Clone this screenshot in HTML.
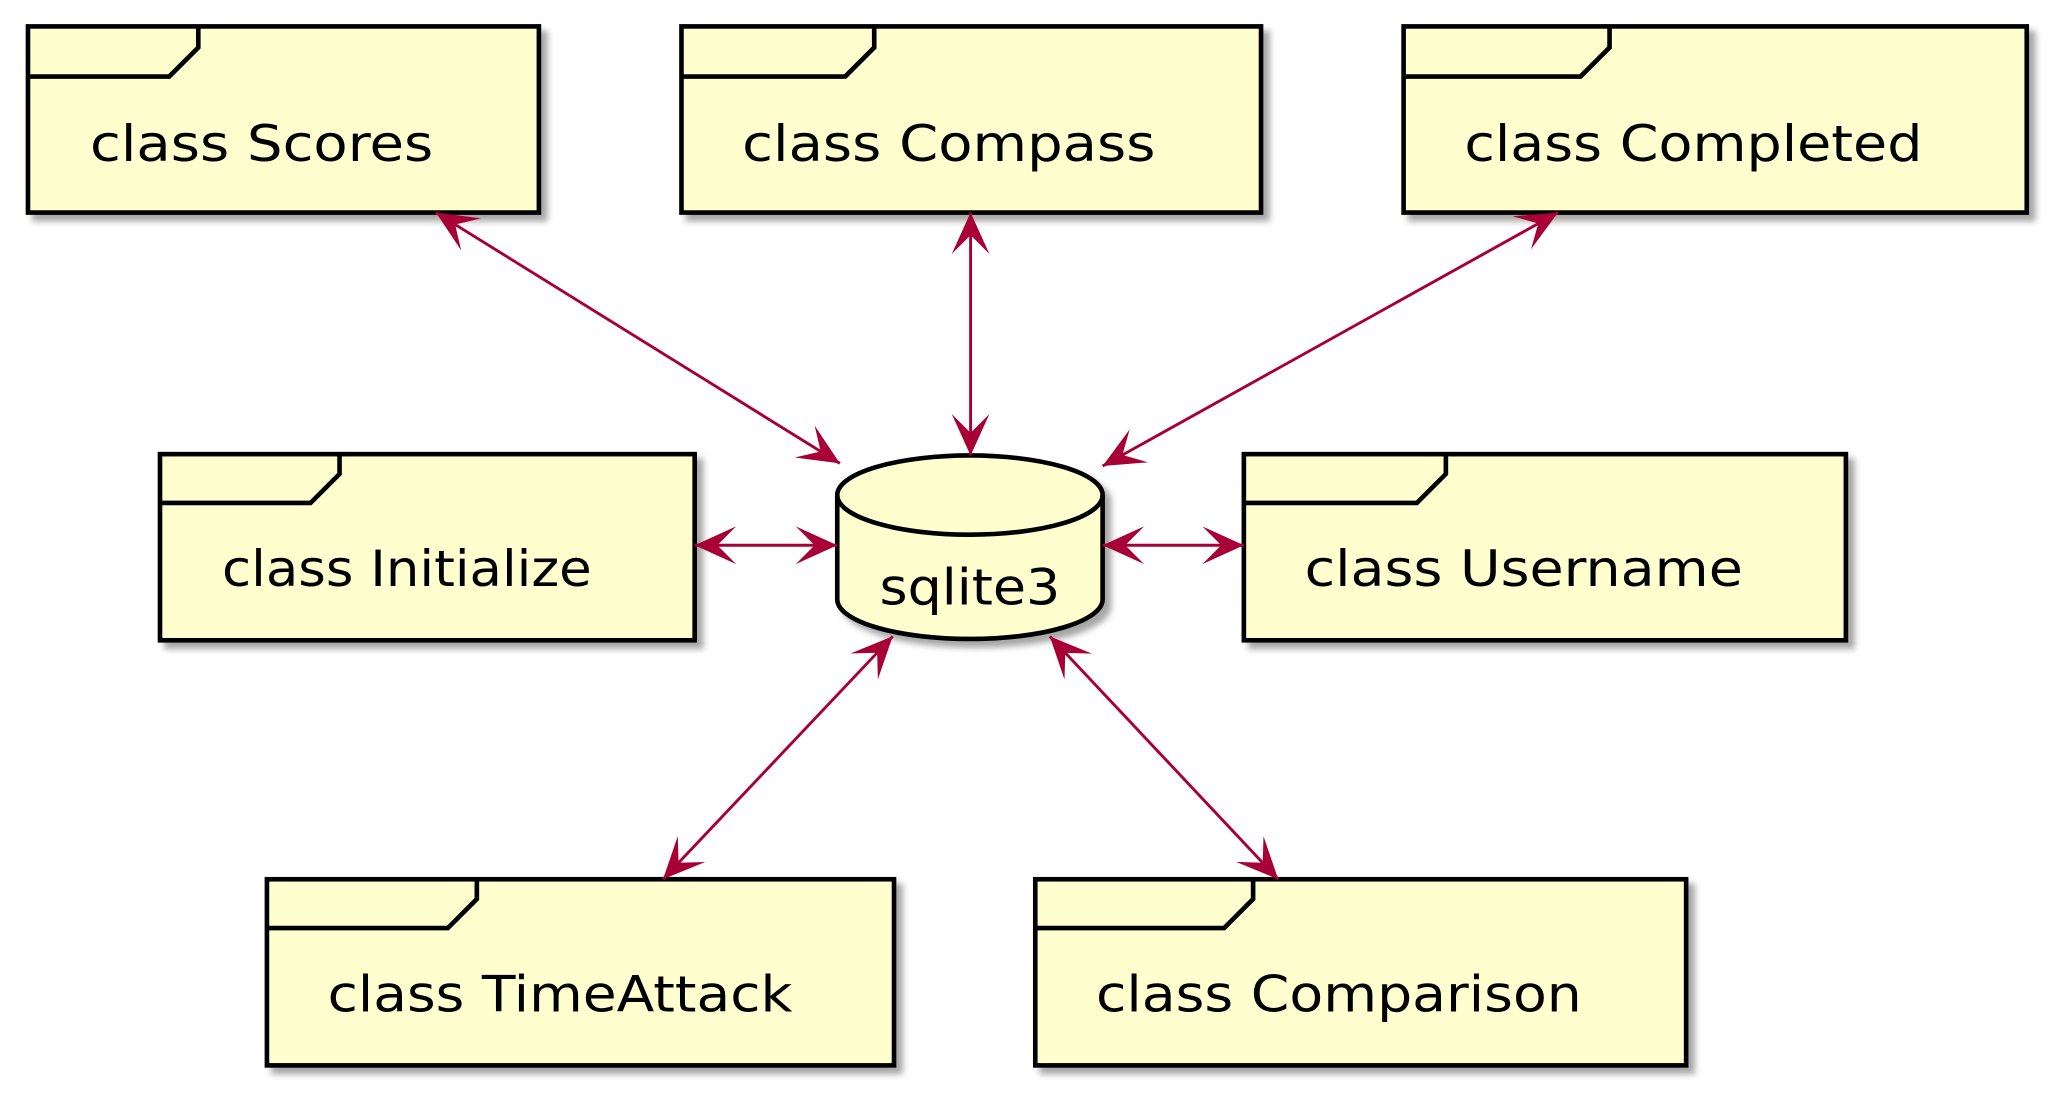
<!DOCTYPE html>
<html><head><style>html,body{margin:0;padding:0;background:#fff;}svg{display:block}</style></head>
<body>
<svg width="2060" height="1105" viewBox="0 0 1560 837" xmlns="http://www.w3.org/2000/svg">
<defs>
<filter id="sh" x="-10%" y="-10%" width="130%" height="130%">
<feGaussianBlur in="SourceAlpha" stdDeviation="2.5"/>
<feOffset dx="5" dy="5" result="b"/>
<feFlood flood-color="#000" flood-opacity="0.35"/>
<feComposite in2="b" operator="in"/>
<feMerge><feMergeNode/><feMergeNode in="SourceGraphic"/></feMerge>
</filter>
<marker id="ah" markerWidth="40" markerHeight="40" refX="0" refY="0" viewBox="-24 -12 28 24" markerUnits="userSpaceOnUse" orient="auto-start-reverse">
<path d="M0,0 L-22,-10 L-12,0 L-22,10 Z" fill="#A80036"/>
</marker>
</defs>
<g fill="#FEFECE" stroke="#000" stroke-width="3.5" filter="url(#sh)">
<rect x="21" y="20" width="387" height="141"/>
<rect x="516" y="20" width="439" height="141"/>
<rect x="1063" y="20" width="472" height="141"/>
<rect x="121" y="344" width="405" height="141"/>
<rect x="942" y="344" width="456" height="141"/>
<rect x="202" y="666" width="475" height="141"/>
<rect x="784" y="666" width="493" height="141"/>
<path d="M634,375 A100.5,30 0 0 1 835,375 L835,454 A100.5,30 0 0 1 634,454 Z"/>
</g>
<g fill="none" stroke="#000" stroke-width="3.5">
<path d="M21,58 H128 L150,36 V20"/>
<path d="M516,58 H640 L662,36 V20"/>
<path d="M1063,58 H1197 L1219,36 V20"/>
<path d="M121,381 H235 L257,359 V344"/>
<path d="M942,381 H1073 L1095,359 V344"/>
<path d="M202,703 H339 L361,681 V666"/>
<path d="M784,703 H927 L949,681 V666"/>
<path d="M634,375 A100.5,30 0 0 0 835,375"/>
</g>
<g stroke="#A80036" stroke-width="2.2" fill="none" marker-start="url(#ah)" marker-end="url(#ah)">
<line x1="330" y1="161" x2="636" y2="351"/>
<line x1="735" y1="161" x2="735" y2="345"/>
<line x1="1180" y1="161" x2="835" y2="353"/>
<line x1="526" y1="413" x2="634" y2="413"/>
<line x1="835" y1="413" x2="942" y2="413"/>
<line x1="676" y1="482" x2="502" y2="666"/>
<line x1="795" y1="482" x2="968" y2="666"/>
</g>
<g font-family="DejaVu Sans, Liberation Sans, sans-serif" font-size="38" fill="#000" lengthAdjust="spacingAndGlyphs">
<text x="68" y="122" textLength="260" lengthAdjust="spacingAndGlyphs">class Scores</text>
<text x="562" y="122" textLength="313" lengthAdjust="spacingAndGlyphs">class Compass</text>
<text x="1109" y="122" textLength="347" lengthAdjust="spacingAndGlyphs">class Completed</text>
<text x="168" y="444" textLength="280" lengthAdjust="spacingAndGlyphs">class Initialize</text>
<text x="988" y="444" textLength="332" lengthAdjust="spacingAndGlyphs">class Username</text>
<text x="248" y="766" textLength="352" lengthAdjust="spacingAndGlyphs">class TimeAttack</text>
<text x="830" y="766" textLength="368" lengthAdjust="spacingAndGlyphs">class Comparison</text>
<text x="666" y="458" textLength="137" lengthAdjust="spacingAndGlyphs">sqlite3</text>
</g>
</svg>
</body></html>
